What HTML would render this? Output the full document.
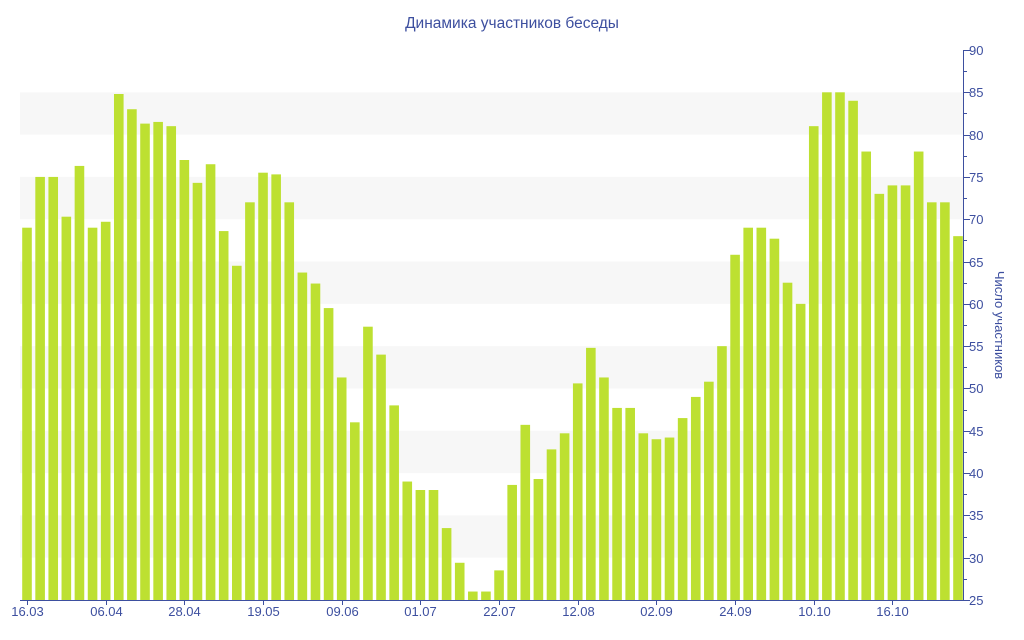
<!DOCTYPE html>
<html><head><meta charset="utf-8"><style>
html,body{margin:0;padding:0;background:#fff;}
svg{display:block;font-family:"Liberation Sans","DejaVu Sans",sans-serif;}
</style></head><body>
<svg width="1024" height="640" viewBox="0 0 1024 640" xmlns="http://www.w3.org/2000/svg">
<text x="512" y="28" text-anchor="middle" font-size="15.5" fill="#3d4f9f">Динамика участников беседы</text>
<g id="bands" fill="#f7f7f7"></g>
<g id="bars" fill="#bde031"></g>
<line x1="20" y1="600.5" x2="963" y2="600.5" stroke="#3d4f9f" stroke-width="1"/>
<line x1="963.5" y1="50" x2="963.5" y2="600" stroke="#3d4f9f" stroke-width="1"/>
<g id="yax" font-size="13" fill="#3d4f9f"></g>
<g id="xax" font-size="13" fill="#3d4f9f"></g>
<text transform="translate(995,325) rotate(90)" text-anchor="middle" font-size="13" fill="#3d4f9f">Число участников</text>
</svg>
<script>
var v=[69,75,75,70.3,76.3,69,69.7,84.8,83,81.3,81.5,81,77,74.3,76.5,68.6,64.5,72,75.5,75.3,72,63.7,62.4,59.5,51.3,46,57.3,54,48,39,38,38,33.5,29.4,26,26,28.5,38.6,45.7,39.3,42.8,44.7,50.6,54.8,51.3,47.7,47.7,44.7,44,44.2,46.5,49,50.8,55,65.8,69,69,67.7,62.5,60,81,85,85,84,78,73,74,74,78,72,72,68];
function Y(val){return 600-(val-25)*550/65;}
var ns="http://www.w3.org/2000/svg";
function el(p,t,a,txt){var e=document.createElementNS(ns,t);for(var k in a)e.setAttribute(k,a[k]);if(txt!=null)e.textContent=txt;document.getElementById(p).appendChild(e);}
[30,40,50,60,70,80].forEach(function(b){el('bands','rect',{x:20,y:Y(b+5),width:943,height:Y(b)-Y(b+5)});});
var pitch=(958-27)/71;
v.forEach(function(val,i){var cx=27+i*pitch;el('bars','rect',{x:cx-4.8,y:Y(val),width:9.6,height:600-Y(val)});});
for(var t=25;t<=90;t+=2.5){var y=Math.round(Y(t))+0.5;var major=(t%5===0);
el('yax','line',{x1:963,y1:y,x2:major?970:967,y2:y,stroke:'#3d4f9f','stroke-width':1});
if(major)el('yax','text',{x:969,y:y+4.5},String(t));}
var labs=["16.03","06.04","28.04","19.05","09.06","01.07","22.07","12.08","02.09","24.09","10.10","16.10"];
labs.forEach(function(l,j){var cx=Math.round(27+j*6*pitch)+0.5;
el('xax','line',{x1:cx,y1:600,x2:cx,y2:605,stroke:'#3d4f9f','stroke-width':1});
el('xax','text',{x:cx,y:616,'text-anchor':'middle'},l);});
</script>
</body></html>
